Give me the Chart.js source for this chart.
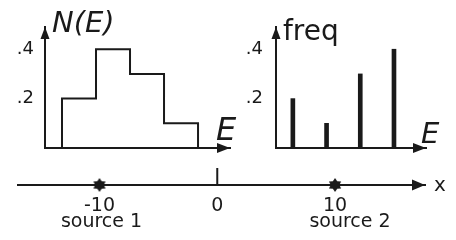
<!DOCTYPE html>
<html><head><meta charset="utf-8">
<script src="https://cdn.jsdelivr.net/npm/chart.js@4"></script>
<style>
html,body{margin:0;padding:0;background:#fff;}
#wrap{position:relative;width:456px;height:240px;overflow:hidden;background:#fff;}
canvas{position:absolute;left:0;top:0;}
</style></head><body>
<div id="wrap">
<canvas id="c1" width="456" height="240"></canvas>
<canvas id="c2" width="456" height="240"></canvas>
<canvas id="c3" width="456" height="240"></canvas>
</div>
<script>
// ---- data ----
const binEdges = [1, 2, 3, 4, 5];
const binValues = [0.2, 0.4, 0.3, 0.1];
const lineEnergies = [1, 2, 3, 4];
const lineFreqs = [0.2, 0.1, 0.3, 0.4];
const yTicks = [0.2, 0.4];
const yTickLabels = ['.2', '.4'];
const xTicks = [-10, 0, 10];
const xTickLabels = ['-10', '0', '10'];
const sourcePositions = [-10, 10];
const sourceNames = ['source 1', 'source 2'];

const INK = '#1a1a1a';
const FONT = '"DejaVu Sans", sans-serif';

// step outline built from the histogram arrays
const stepPoints = [];
for (let i = 0; i < binEdges.length; i++) {
  stepPoints.push({x: binEdges[i], y: i === 0 ? 0 : binValues[i - 1]});
  stepPoints.push({x: binEdges[i], y: i < binValues.length ? binValues[i] : 0});
}

function starImage(r) {
  const s = Math.ceil(r * 2 + 2);
  const c = document.createElement('canvas');
  c.width = s; c.height = s;
  const g = c.getContext('2d');
  g.fillStyle = INK;
  g.beginPath();
  for (let k = 0; k < 12; k++) {
    const a = -Math.PI / 2 + k * Math.PI / 6;
    const rr = k % 2 === 0 ? r : r * 0.62;
    g.lineTo(s / 2 + rr * Math.cos(a), s / 2 + rr * Math.sin(a));
  }
  g.closePath();
  g.fill();
  return c;
}

function arrow(ctx, x, y, dir, len, hw) {
  ctx.save();
  ctx.fillStyle = INK;
  ctx.beginPath();
  if (dir === 'right') {
    ctx.moveTo(x, y); ctx.lineTo(x - len, y - hw); ctx.lineTo(x - len, y + hw);
  } else {
    ctx.moveTo(x, y); ctx.lineTo(x - hw, y + len); ctx.lineTo(x + hw, y + len);
  }
  ctx.closePath();
  ctx.fill();
  ctx.restore();
}

function text(ctx, s, x, y, font, align, base) {
  ctx.save();
  ctx.fillStyle = INK;
  ctx.font = font;
  ctx.textAlign = align || 'left';
  ctx.textBaseline = base || 'alphabetic';
  ctx.fillText(s, x, y);
  ctx.restore();
}

function yAxis(width, pad) {
  return {
    type: 'linear', min: 0, max: 0.49,
    grid: {display: false, drawTicks: false},
    border: {display: true, color: INK, width: 2},
    afterBuildTicks: s => { s.ticks = yTicks.map(v => ({value: v})); },
    afterFit: s => { s.width = width; },
    ticks: {padding: pad, color: INK, font: {family: FONT, size: 18},
            callback: (v, i) => yTickLabels[i]}
  };
}
function xPanel(min, max) {
  return {
    type: 'linear', min: min, max: max, offset: false,
    grid: {display: false, drawTicks: false, offset: false},
    border: {display: true, color: INK, width: 2},
    ticks: {display: false},
    afterFit: s => { s.height = 0; }
  };
}
const common = {
  responsive: false, animation: false,
  plugins: {legend: {display: false}, tooltip: {enabled: false}}
};

// ---- left panel: N(E) histogram ----
new Chart(document.getElementById('c1'), {
  type: 'line',
  data: {datasets: [{data: stepPoints, borderColor: INK, borderWidth: 2,
    pointRadius: 0, tension: 0, fill: false, clip: false}]},
  options: Object.assign({}, common, {
    layout: {padding: {left: 0, top: 27, right: 226, bottom: 92}},
    scales: {x: xPanel(0.5, 5.94), y: yAxis(45, 11)}
  }),
  plugins: [{id: 'deco1', afterDraw(chart) {
    const ctx = chart.ctx, a = chart.chartArea;
    arrow(ctx, a.right, a.bottom, 'right', 13, 5);
    arrow(ctx, a.left, a.top, 'up', 12, 4.5);
    text(ctx, 'N(E)', 52, 32, 'oblique 29px ' + FONT);
    text(ctx, 'E', 216, 140, 'oblique 32px ' + FONT);
  }}]
});

// ---- right panel: freq spectrum ----
new Chart(document.getElementById('c2'), {
  type: 'bar',
  data: {datasets: [{data: lineEnergies.map((e, i) => ({x: e, y: lineFreqs[i]})),
    backgroundColor: INK, borderWidth: 0, barThickness: 4, clip: false}]},
  options: Object.assign({}, common, {
    layout: {padding: {left: 0, top: 27, right: 30, bottom: 92}},
    scales: {x: xPanel(0.5, 4.95), y: yAxis(276, 13)}
  }),
  plugins: [{id: 'deco2', afterDraw(chart) {
    const ctx = chart.ctx, a = chart.chartArea;
    arrow(ctx, a.right, a.bottom, 'right', 13, 5);
    arrow(ctx, a.left, a.top, 'up', 12, 4.5);
    text(ctx, 'freq', 283, 40, '28px ' + FONT);
    text(ctx, 'E', 421, 143, 'oblique 29px ' + FONT);
  }}]
});

// ---- bottom: x axis with sources ----
const star = starImage(7);
new Chart(document.getElementById('c3'), {
  type: 'scatter',
  data: {datasets: [
    {type: 'line', data: [{x: 0, y: 0}, {x: 0, y: 1}], borderColor: INK,
     borderWidth: 2, pointRadius: 0, clip: false},
    {data: sourcePositions.map(p => ({x: p, y: 0})), pointStyle: star,
     pointRadius: 7, clip: false}
  ]},
  options: Object.assign({}, common, {
    layout: {padding: {left: 18, top: 168, right: 31, bottom: 25}},
    scales: {
      x: {type: 'linear', min: -16.92, max: 17.64,
          grid: {display: false, drawTicks: false},
          border: {display: true, color: INK, width: 2},
          afterBuildTicks: s => { s.ticks = xTicks.map(v => ({value: v})); },
          afterFit: s => { s.height = 30; },
          ticks: {padding: 10, color: INK, font: {family: FONT, size: 19},
                  maxRotation: 0, autoSkip: false,
                  callback: (v, i) => xTickLabels[i]}},
      y: {type: 'linear', min: 0, max: 1, display: false}
    }
  }),
  plugins: [{id: 'deco3', afterDraw(chart) {
    const ctx = chart.ctx, a = chart.chartArea, sx = chart.scales.x;
    arrow(ctx, a.right, a.bottom, 'right', 13, 5.5);
    text(ctx, 'x', a.right + 15, a.bottom + 1, '20px ' + FONT, 'center', 'middle');
    const shift = [2, 15];
    sourcePositions.forEach((p, i) => {
      text(ctx, sourceNames[i], sx.getPixelForValue(p) + shift[i], 222,
           '19px ' + FONT, 'center', 'middle');
    });
  }}]
});
</script>
</body></html>
